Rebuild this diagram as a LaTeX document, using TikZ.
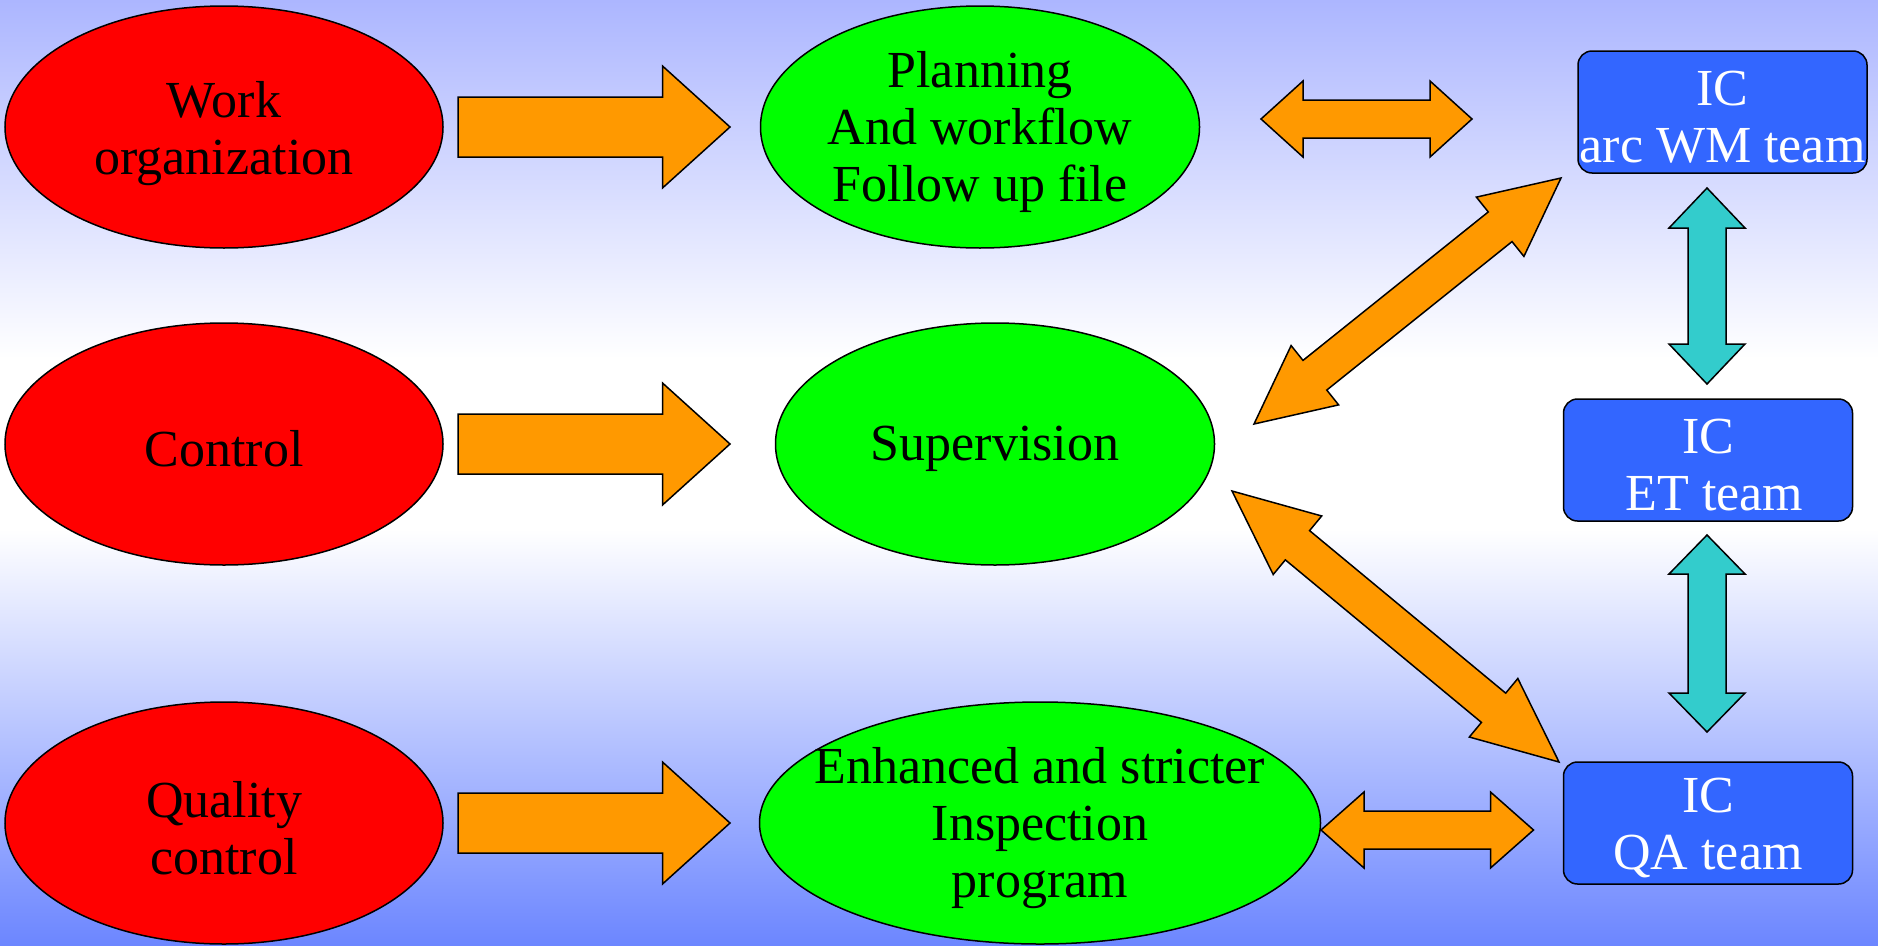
\documentclass[tikz,border=0pt]{standalone}
\usepackage{fontspec}
\setmainfont{Liberation Serif}
\usetikzlibrary{calc,shapes.geometric}
\definecolor{bgtop}{RGB}{172,182,255}
\definecolor{bgbot}{RGB}{108,134,255}
\definecolor{myred}{RGB}{255,0,0}
\definecolor{mygreen}{RGB}{0,255,0}
\definecolor{myorange}{RGB}{255,153,0}
\definecolor{myblue}{RGB}{51,102,255}
\definecolor{myteal}{RGB}{51,204,204}
\pgfdeclareverticalshading{bgshade}{100bp}{color(0bp)=(bgbot); color(25bp)=(bgbot); color(47bp)=(white); color(56bp)=(white); color(75bp)=(bgtop); color(100bp)=(bgtop)}
% double block arrow: #1 tip A, #2 tip B, #3 head length, #4 half head width, #5 half shaft width, #6 style
\newcommand{\dblarr}[6]{%
 \path[#6] let \p1=($(#2)-(#1)$), \n1={atan2(\y1,\x1)} in
  (#1) -- ($(#1)+({\n1}:#3)+({\n1+90}:#4)$) -- ($(#1)+({\n1}:#3)+({\n1+90}:#5)$)
  -- ($(#2)+({\n1+180}:#3)+({\n1+90}:#5)$) -- ($(#2)+({\n1+180}:#3)+({\n1+90}:#4)$)
  -- (#2) -- ($(#2)+({\n1+180}:#3)+({\n1-90}:#4)$) -- ($(#2)+({\n1+180}:#3)+({\n1-90}:#5)$)
  -- ($(#1)+({\n1}:#3)+({\n1-90}:#5)$) -- ($(#1)+({\n1}:#3)+({\n1-90}:#4)$) -- cycle;}
% single block arrow: #1 tail centre, #2 tip
\newcommand{\sglarr}[6]{%
 \path[#6] let \p1=($(#2)-(#1)$), \n1={atan2(\y1,\x1)} in
  ($(#1)+({\n1+90}:#5)$) -- ($(#2)+({\n1+180}:#3)+({\n1+90}:#5)$) -- ($(#2)+({\n1+180}:#3)+({\n1+90}:#4)$)
  -- (#2) -- ($(#2)+({\n1+180}:#3)+({\n1-90}:#4)$) -- ($(#2)+({\n1+180}:#3)+({\n1-90}:#5)$)
  -- ($(#1)+({\n1-90}:#5)$) -- cycle;}
\tikzset{
  ell/.style={ellipse, draw=black, line width=1.5pt, inner sep=0pt, minimum width=#1, minimum height=242pt},
  redell/.style={ell=438pt, fill=myred},
  greenell/.style={ell=#1, fill=mygreen},
  bluebox/.style={draw=black, line width=1.5pt, fill=myblue, rounded corners=14pt, inner sep=0pt,
     minimum width=289pt, minimum height=122pt},
  txt/.style={align=center, font=\fontsize{52}{57}\selectfont, inner sep=0pt, yshift=-5pt},
  wtxt/.style={txt, text=white},
  orarr/.style={fill=myorange, draw=black, line width=1.5pt, line join=miter},
  tlarr/.style={fill=myteal, draw=black, line width=1.5pt, line join=miter},
}
\begin{document}
\begin{tikzpicture}[x=1pt, y=-1pt]
\useasboundingbox (0,0) rectangle (1878,945);
\shade[shading=bgshade] (0,0) rectangle (1878,945);

% left ellipses
\node[redell] (wo) at (224,127) {};
\node[txt] (wot) at ([yshift=-2pt]wo.center) {Work\\organization};
\node[redell] (co) at (224,444) {};
\node[txt] (cot) at (co.center) {Control};
\node[redell] (qc) at (224,823) {};
\node[txt] (qct) at (qc.center) {Quality\\control};

% middle ellipses
\node[greenell=439pt] (pl) at (980,127) {};
\node[txt] (plt) at (pl.center) {Planning\\And workflow\\Follow up file};
\node[greenell=439pt] (su) at (995,444) {};
\node[txt] (sut) at (su.center) {Supervision};
\node[greenell=561pt] (en) at (1040,823) {};
\node[txt] (ent) at (en.center) {Enhanced and stricter\\Inspection\\program};

% right boxes
\node[bluebox] (wm) at (1722.5,112) {};
\node[wtxt] (wmt) at (wm.center) {IC\\arc WM team};
\node[bluebox] (et) at (1708,460) {};
\node[wtxt] (ett) at (et.center) {IC\\\ ET team};
\node[bluebox] (qa) at (1708,823) {};
\node[wtxt] (qat) at (qa.center) {IC\\QA team};

% arrow end points
\coordinate (r1a) at (458,127);  \coordinate (r1b) at (730,127);
\coordinate (r2a) at (458,444);  \coordinate (r2b) at (730,444);
\coordinate (r3a) at (458,823);  \coordinate (r3b) at (730,823);
\coordinate (h1a) at (1261,119); \coordinate (h1b) at (1472,119);
\coordinate (h2a) at (1321,830); \coordinate (h2b) at (1533.5,830);
\coordinate (d1a) at (1254,424); \coordinate (d1b) at (1561,178);
\coordinate (d2a) at (1232,491); \coordinate (d2b) at (1559,762);
\coordinate (v1a) at (1707,188); \coordinate (v1b) at (1707,384);
\coordinate (v2a) at (1707,535); \coordinate (v2b) at (1707,732);

\sglarr{r1a}{r1b}{67.5pt}{61pt}{30pt}{orarr}
\sglarr{r2a}{r2b}{67.5pt}{61pt}{30pt}{orarr}
\sglarr{r3a}{r3b}{67.5pt}{61pt}{30pt}{orarr}
\dblarr{h1a}{h1b}{42pt}{38pt}{19pt}{orarr}
\dblarr{h2a}{h2b}{43pt}{38pt}{19pt}{orarr}
\dblarr{d1a}{d1b}{78pt}{38pt}{19pt}{orarr}
\dblarr{d2a}{d2b}{85pt}{38pt}{19pt}{orarr}
\dblarr{v1a}{v1b}{40pt}{38pt}{19pt}{tlarr}
\dblarr{v2a}{v2b}{39pt}{38pt}{19pt}{tlarr}
\end{tikzpicture}
\end{document}
